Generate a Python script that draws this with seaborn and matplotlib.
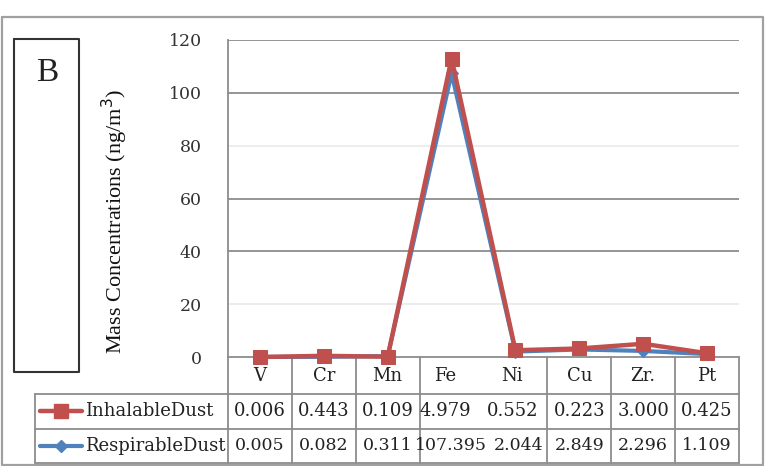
import matplotlib
matplotlib.use("Agg")
import matplotlib.pyplot as plt
import seaborn as sns
import pandas as pd

# ---- data ----
categories = ['V', 'Cr', 'Mn', 'Fe', 'Ni', 'Cu', 'Zr.', 'Pt']
inhalable = [0.006, 0.443, 0.109, 112.979, 2.552, 3.223, 5.000, 1.425]
respirable = [0.005, 0.082, 0.311, 107.395, 2.044, 2.849, 2.296, 1.109]
inhalable_cells = ['0.006', '0.443', '0.109', '4.979', '0.552', '0.223', '3.000', '0.425']
respirable_cells = ['0.005', '0.082', '0.311', '107.395', '2.044', '2.849', '2.296', '1.109']
series_names = ['InhalableDust', 'RespirableDust']
y_ticks = [0, 20, 40, 60, 80, 100, 120]

RED = '#C0504D'
BLUE = '#4F81BD'
GRID = '#8C8C8C'
SERIF = ['Liberation Serif', 'DejaVu Serif']
WIDE = ['DejaVu Serif']

sns.set_theme(style='white')
plt.rcParams['font.family'] = SERIF

W, H = 770, 466
fig = plt.figure(figsize=(W / 100, H / 100), dpi=100)

# background overlay in pixel coordinates
bg = fig.add_axes([0, 0, 1, 1], zorder=0)
bg.set_xlim(0, W)
bg.set_ylim(H, 0)
bg.axis('off')

# main plot area
L, R, T, B0 = 228, 739, 40, 357
ax = fig.add_axes([L / W, 1 - B0 / H, (R - L) / W, (B0 - T) / H], zorder=2)
ax.set_facecolor('none')

df_r = pd.DataFrame({'element': categories, 'value': respirable})
df_i = pd.DataFrame({'element': categories, 'value': inhalable})

sns.lineplot(data=df_r, x='element', y='value', ax=ax, color=BLUE, lw=3,
             marker='D', markersize=6, markeredgecolor=BLUE, sort=False,
             clip_on=False, zorder=3)
sns.lineplot(data=df_i, x='element', y='value', ax=ax, color=RED, lw=3.2,
             marker='s', markersize=10.5, markeredgecolor=RED, sort=False,
             clip_on=False, zorder=4)

ax.set_xlim(-0.5, len(categories) - 0.5)
ax.set_ylim(0, 120)
ax.set_yticks(y_ticks)
ax.set_yticklabels([str(t) for t in y_ticks], fontsize=12.5, color='#333333',
                   family=WIDE)
ax.tick_params(axis='y', length=0, pad=19)
ax.set_xticks([])
ax.set_xlabel('')
ax.set_ylabel('')
for t in y_ticks[1:]:
    light = t in (20, 80)
    ax.axhline(t, color='#EBEBEB' if light else GRID, lw=1.3, zorder=1)
for s in ['top', 'right', 'bottom']:
    ax.spines[s].set_visible(False)
ax.spines['left'].set_color(GRID)
ax.spines['left'].set_linewidth(1.3)

# y label
bg.text(115, 221, 'Mass Concentrations (ng/m$^3$)', rotation=90, ha='center',
        va='center', fontsize=16, color='#111111')

# outer frame
bg.plot([1.5, 763, 763, 1.5, 1.5], [16.5, 16.5, 465, 465, 16.5], color='#A0A0A0', lw=1.6)
# B box
bg.plot([13.5, 78.5, 78.5, 13.5, 13.5], [38.5, 38.5, 372, 372, 38.5], color='#333333', lw=1.5)
bg.text(47, 73, 'B', ha='center', va='center', fontsize=24, color='#222222')

# ---- data table ----
tc = '#8C8C8C'
col_w = (R - L) / len(categories)
rows_y = [B0, 394, 429, 463]
bg.plot([L, R], [B0, B0], color=tc, lw=1.3)
for y in rows_y[1:]:
    bg.plot([35, R], [y, y], color=tc, lw=1.3)
bg.plot([35, 35], [394, 463], color=tc, lw=1.3)
for i in range(len(categories) + 1):
    if i == 4:
        continue
    x = L + i * col_w
    bg.plot([x, x], [B0, 463], color=tc, lw=1.3)

centers = [L + (i + 0.5) * col_w for i in range(len(categories))]
hdr_shift = {3: -6, 4: -3}
for i, (x, c) in enumerate(zip(centers, categories)):
    bg.text(x + hdr_shift.get(i, 0), 376, c, ha='center', va='center', fontsize=13,
            color='#222222', family=WIDE)
for i, (x, v) in enumerate(zip(centers, inhalable_cells)):
    bg.text(x + hdr_shift.get(i, 0), 411, v, ha='center', va='center', fontsize=13,
            color='#222222', family=WIDE)
for i, (x, v) in enumerate(zip(centers, respirable_cells)):
    dx = {3: -1, 4: 3}.get(i, 0)
    bg.text(x + dx, 446, v, ha='center', va='center', fontsize=12.5,
            color='#222222', family=WIDE)

# legend keys
bg.plot([40, 82], [411, 411], color=RED, lw=3.2)
bg.plot([61], [411], marker='s', markersize=10.5, color=RED)
bg.text(85, 411, series_names[0], ha='left', va='center', fontsize=13,
        color='#222222', family=WIDE)
bg.plot([40, 82], [446, 446], color=BLUE, lw=3)
bg.plot([61], [446], marker='D', markersize=6, color=BLUE)
bg.text(85, 446, series_names[1], ha='left', va='center', fontsize=13,
        color='#222222', family=WIDE)

fig.savefig('out.png', dpi=100)
